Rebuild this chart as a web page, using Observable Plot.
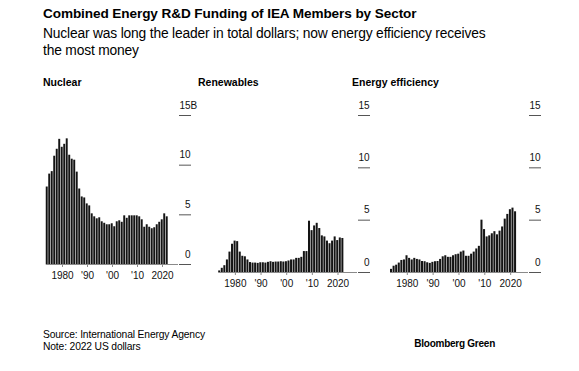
<!DOCTYPE html>
<html><head><meta charset="utf-8">
<script src="https://cdn.jsdelivr.net/npm/d3@7"></script>
<script src="https://cdn.jsdelivr.net/npm/@observablehq/plot@0.6"></script>
<style>
body{margin:0;background:#fff;font-family:"Liberation Sans",Arial,sans-serif;color:#000;}
#wrap{position:relative;width:579px;height:371px;overflow:hidden;background:#fff;}
.t{position:absolute;white-space:nowrap;}
.panel{position:absolute;top:90px;}
.ptitle{position:absolute;top:76px;font-weight:bold;font-size:10.5px;}
</style></head><body>
<div id="wrap">
  <div class="t" style="left:43px;top:6px;font-weight:bold;font-size:13.6px;letter-spacing:-0.1px;">Combined Energy R&amp;D Funding of IEA Members by Sector</div>
  <div class="t" style="left:43px;top:25px;font-size:13.8px;line-height:17px;letter-spacing:-0.17px;">Nuclear was long the leader in total dollars; now energy efficiency receives<br>the most money</div>
  <div class="t ptitle" style="left:43px;">Nuclear</div>
  <div class="t ptitle" style="left:198px;">Renewables</div>
  <div class="t ptitle" style="left:352px;">Energy efficiency</div>
  <div class="panel" id="p1" style="left:0px;"></div>
  <div class="panel" id="p2" style="left:170px;"></div>
  <div class="panel" id="p3" style="left:345px;"></div>
  <div class="t" style="left:43px;top:329px;font-size:10.3px;line-height:11.5px;letter-spacing:-0.15px;">Source: International Energy Agency<br>Note: 2022 US dollars</div>
  <div class="t" style="right:84px;top:338px;font-size:10px;font-weight:bold;letter-spacing:-0.25px;">Bloomberg Green</div>
</div>
<script>
const years = [1974,1975,1976,1977,1978,1979,1980,1981,1982,1983,
  1984,1985,1986,1987,1988,1989,1990,1991,1992,1993,
  1994,1995,1996,1997,1998,1999,2000,2001,2002,2003,
  2004,2005,2006,2007,2008,2009,2010,2011,2012,2013,
  2014,2015,2016,2017,2018,2019,2020,2021,2022];
const nuclear = [7.8,9.1,9.35,10.9,11.6,12.6,11.8,12.1,12.65,11.0,
  10.6,10.5,9.3,7.6,6.8,6.7,6.1,5.9,5.1,4.8,
  4.6,4.7,4.3,4.15,4.0,4.0,4.1,3.8,4.3,4.4,
  4.25,4.9,4.65,4.9,4.9,4.9,4.9,4.8,4.5,3.75,
  4.0,3.75,3.6,3.7,4.0,4.25,4.5,5.1,4.8];
const renewables = [0.15,0.4,0.65,1.2,1.95,2.7,3.0,2.95,1.95,1.55,
  1.5,1.2,0.95,0.9,0.9,0.87,0.93,0.93,0.9,0.97,
  1.03,0.97,1.0,1.0,1.03,1.0,1.03,1.1,1.2,1.2,
  1.35,1.35,1.45,2.0,2.0,4.9,4.0,4.45,4.7,4.2,
  3.5,3.4,3.0,2.75,3.0,3.4,3.05,3.3,3.25];
const efficiency = [0.3,0.6,0.7,0.9,1.15,1.2,1.6,1.35,1.2,1.35,
  1.25,1.2,1.05,1.03,0.93,0.87,0.97,1.03,1.05,1.25,
  1.5,1.6,1.45,1.45,1.6,1.7,1.75,1.95,2.05,1.55,
  1.55,1.75,1.95,2.25,2.5,5.0,4.1,3.4,3.5,3.7,
  3.9,3.6,3.95,4.35,5.1,5.55,6.0,6.15,5.8];
const xTicks = [1980,1990,2000,2010,2020];
const xTickLabels = ["1980","'90","'00","'10","2020"];
const yTicks = [0,5,10,15];
const unitLabel = "B";

function panel(id, values, o) {
  const data = years.map((y, i) => ({year: y, value: values[i]}));
  const tickLen = 12;
  const marks = [
    Plot.rectY(data, {x1: d => d.year - 0.5, x2: d => d.year + 0.5, y: "value", fill: "#141414", insetRight: 0.55}),
    Plot.ruleY([0], {stroke: "#8a8a8a", strokeWidth: 1}),
    Plot.axisX({ticks: xTicks, tickFormat: d => xTickLabels[xTicks.indexOf(d)], tickSize: 3, tickPadding: 4, stroke: "#8a8a8a", fill: "#111", fontSize: 10}),
    Plot.axisY({anchor: "right", ticks: yTicks, tickSize: tickLen, text: null, stroke: "#555"}),
    Plot.text(yTicks, {y: d => d, text: d => String(d), frameAnchor: "right", dx: tickLen, dy: -10, textAnchor: "end", fill: "#111", fontSize: 10})
  ];
  if (o.unit) {
    marks.push(Plot.text([15], {y: d => d, text: () => unitLabel, frameAnchor: "right", dx: tickLen, dy: -10, textAnchor: "start", fill: "#111", fontSize: 10}));
  }
  const p = Plot.plot({
    width: o.w, height: 215,
    marginLeft: o.ml, marginRight: o.mr, marginTop: 25, marginBottom: o.mb,
    x: {domain: [1973.5, o.xmax], label: null},
    y: {domain: [0, 15], label: null},
    style: {fontFamily: '"Liberation Sans", Arial, sans-serif', fontSize: "10px", color: "#111", background: "transparent", overflow: "visible"},
    marks
  });
  document.getElementById(id).appendChild(p);
}
panel("p1", nuclear, {w: 205, ml: 45.75, mr: 27, mb: 41, xmax: 2026.4, unit: true});
panel("p2", renewables, {w: 210, ml: 48.2, mr: 23, mb: 33, xmax: 2027.6});
panel("p3", efficiency, {w: 210, ml: 45, mr: 27, mb: 33, xmax: 2026.9});
</script>
</body></html>
